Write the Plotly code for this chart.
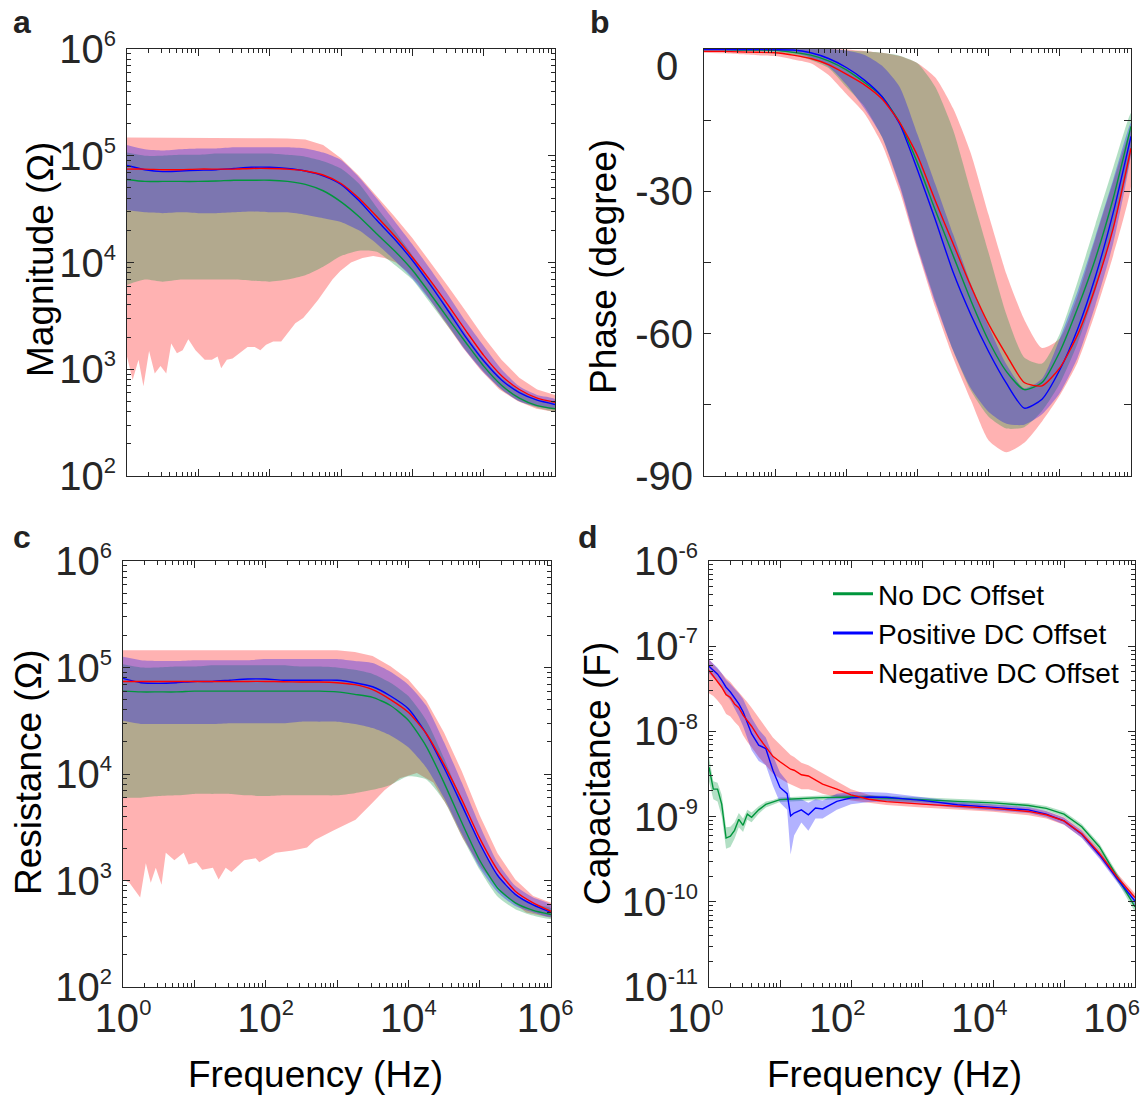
import plotly.graph_objects as go

# ---------------------------------------------------------------- data ----
SERIES = ["No DC Offset", "Positive DC Offset", "Negative DC Offset"]
LINE_COLORS = ["#00963c", "#0000ff", "#ff0000"]
FILL_COLORS = ["rgba(0,150,60,0.30)", "rgba(0,0,255,0.30)", "rgba(255,0,0,0.30)"]

# common frequency grid for panels a-c (Hz)
FREQ = [1, 1.78, 3.16, 5.62, 10, 17.8, 31.6, 56.2, 100, 178, 316, 562, 1e3,
        1.78e3, 3.16e3, 5.62e3, 1e4, 1.78e4, 3.16e4, 5.62e4, 1e5, 1.78e5,
        3.16e5, 5.62e5, 1e6]

# (a) impedance magnitude, ohm
MAG_NO = [6.0e4, 5.75e4, 5.75e4, 5.75e4, 5.75e4, 5.8e4, 5.9e4, 5.9e4, 5.9e4, 5.75e4, 5.4e4, 4.7e4, 3.7e4,
          2.7e4, 1.86e4, 1.29e4, 8.5e3, 5.1e3, 3.0e3, 1.78e3, 1.07e3, 708, 537, 457, 427]
MAG_NO_LO = [6170, 6920, 6610, 6920, 6920, 6920, 6920, 6760, 6610, 6920, 7590, 9120, 1.15e4,
             1.29e4, 1.26e4, 9550, 6920, 4170, 2510, 1510, 955, 646, 501, 437, 407]
MAG_NO_HI = [1.07e5, 1.0e5, 1.0e5, 1.02e5, 1.02e5, 1.05e5, 1.05e5, 1.05e5, 1.05e5, 1.02e5, 9.8e4, 8.9e4, 7.6e4,
             5.5e4, 3.3e4, 2.0e4, 1.17e4, 6.8e3, 3.8e3, 2.14e3, 1.26e3, 832, 631, 525, 479]
MAG_POS = [8.1e4, 7.4e4, 7.1e4, 7.2e4, 7.3e4, 7.4e4, 7.6e4, 7.8e4, 7.8e4, 7.6e4, 7.2e4, 6.5e4, 5.4e4,
           3.8e4, 2.5e4, 1.66e4, 1.05e4, 6.2e3, 3.55e3, 2.0e3, 1.2e3, 794, 603, 513, 468]
MAG_POS_LO = [3.1e4, 2.95e4, 2.9e4, 2.95e4, 2.9e4, 2.9e4, 2.95e4, 3.0e4, 2.95e4, 2.95e4, 2.8e4, 2.6e4, 2.4e4,
              2.0e4, 1.5e4, 1.05e4, 7.1e3, 4.4e3, 2.6e3, 1.48e3, 933, 646, 501, 447, 427]
MAG_POS_HI = [1.26e5, 1.15e5, 1.12e5, 1.15e5, 1.17e5, 1.17e5, 1.2e5, 1.2e5, 1.2e5, 1.2e5, 1.17e5, 1.07e5, 9.1e4,
              6.3e4, 4.0e4, 2.45e4, 1.48e4, 8.7e3, 5.0e3, 2.8e3, 1.66e3, 1000, 692, 575, 525]
MAG_NEG = [7.5e4, 7.5e4, 7.4e4, 7.4e4, 7.5e4, 7.5e4, 7.5e4, 7.6e4, 7.6e4, 7.5e4, 7.2e4, 6.6e4, 5.5e4,
           4.0e4, 2.7e4, 1.78e4, 1.12e4, 6.8e3, 4.0e3, 2.3e3, 1.35e3, 871, 646, 537, 490]
MAG_NEG_HI = [1.48e5, 1.48e5, 1.47e5, 1.47e5, 1.46e5, 1.47e5, 1.47e5, 1.46e5, 1.46e5, 1.45e5, 1.42e5, 1.26e5, 9.5e4,
              6.5e4, 4.2e4, 2.7e4, 1.7e4, 1.02e4, 6.0e3, 3.5e3, 2.0e3, 1.23e3, 832, 646, 575]
FREQ_MAG_NEG_LO = [1, 1.20, 1.45, 1.70, 2.04, 2.45, 2.95, 3.55, 4.17, 5.01, 6.03, 7.24, 9.12, 12.3, 15.5,
                   18.6, 20.9, 25.1, 30.2, 38.0, 49.0, 61.7, 74.1, 89.1, 112, 145, 182, 229, 295, 372, 479,
                   603, 759, 977, 1380, 2000, 2820, 4070, 5890, 8320, 1.2e4, 1.7e4, 2.75e4, 5.01e4, 9.12e4,
                   1.66e5, 3.02e5, 5.5e5, 1e6]
MAG_NEG_LO = [1320, 794, 1230, 692, 1480, 912, 1070, 912, 1740, 1410, 1510, 1910, 1510, 1230, 1230,
              1320, 1020, 1230, 1260, 1410, 1620, 1620, 1510, 1700, 1820, 1820, 2190, 2690, 3020, 3630, 4470,
              5500, 6920, 8320, 1.0e4, 1.1e4, 1.15e4, 1.1e4, 1.0e4, 8320, 6460, 4680, 2880, 1620, 977,
              646, 501, 427, 398]

# (b) phase, degree
PH_NO = [-0.1, -0.1, -0.2, -0.2, -0.3, -0.7, -1.3, -2.5, -4.4, -7.0, -10.0, -15.5, -24.0,
         -34.0, -43.5, -53.0, -61.5, -68.0, -71.8, -70.3, -63.8, -54.6, -44.2, -31.5, -16.3]
PH_NO_HI = [0, 0, 0, 0, 0, 0, 0, 0, -0.3, -0.5, -0.8, -1.4, -3.0,
            -8.0, -17.0, -30.0, -43.0, -56.0, -65.0, -66.3, -60, -49, -37, -25, -13.5]
PH_NO_LO = [-0.3, -0.3, -0.4, -0.5, -0.7, -1.2, -2.3, -4.0, -8.0, -12.0, -18.5, -28.5, -41.5,
            -53.0, -63.5, -72.0, -77.5, -80.0, -79.7, -76.3, -70.5, -62, -51, -38, -22]
PH_POS = [-0.1, -0.1, -0.1, -0.1, -0.15, -0.2, -0.8, -2.0, -3.9, -6.5, -10.0, -15.8, -25.5,
          -36.0, -47.0, -56.0, -63.8, -70.5, -75.7, -73.8, -67.6, -59, -48, -34.5, -18.4]
PH_POS_HI = [0, 0, 0, 0, 0, 0, 0, 0, -0.3, -1.2, -3.5, -8.0, -18.0,
             -28.5, -39.0, -49.5, -58.5, -66.5, -71.5, -69.5, -61, -51, -39.5, -27.5, -15.5]
PH_POS_LO = [-0.3, -0.3, -0.3, -0.3, -0.3, -0.8, -1.8, -3.7, -7.5, -12.5, -18.5, -29.0, -42.0,
             -53.5, -63.5, -71.5, -76.5, -79.0, -79.2, -77, -72.5, -65, -54, -41, -22]
PH_NEG = [-0.5, -0.5, -0.6, -0.7, -0.8, -1.3, -2.0, -3.3, -5.3, -7.5, -10.5, -15.5, -22.5,
          -32.0, -41.0, -50.0, -58.0, -64.5, -70.3, -71.0, -67.2, -60.2, -50.2, -37.8, -20.9]
PH_NEG_HI = [0, 0, 0, 0, 0, 0, 0, 0, -0.1, -0.4, -0.8, -1.5, -3.0,
             -6.0, -12.5, -22.0, -35.0, -47.5, -57.0, -63, -61, -52, -40, -28, -17]
PH_NEG_LO = [-0.8, -0.9, -1.1, -1.3, -1.5, -2.2, -3.0, -5.5, -9.5, -13.5, -20.0, -30.0, -42.5,
             -54.5, -65.0, -74.0, -82.5, -85.0, -83.0, -78.5, -73.0, -66.0, -55.5, -43.5, -29.0]

# (c) resistance, ohm
RES_NO = [6.0e4, 5.9e4, 5.9e4, 5.9e4, 6.0e4, 6.0e4, 6.0e4, 6.0e4, 6.0e4, 6.0e4, 6.0e4, 6.0e4, 5.9e4,
          5.6e4, 5.25e4, 4.4e4, 3.2e4, 1.82e4, 8.3e3, 3.5e3, 1.55e3, 851, 617, 525, 479]
RES_NO_LO = [6.0e3, 6.0e3, 6.2e3, 6.3e3, 6.5e3, 6.5e3, 6.5e3, 6.3e3, 6.2e3, 6.3e3, 6.3e3, 6.3e3, 6.3e3,
             6.6e3, 7.1e3, 7.9e3, 9.5e3, 8.9e3, 5.6e3, 2.6e3, 1.26e3, 708, 537, 468, 437]
RES_NO_HI = [1.07e5, 1.0e5, 1.0e5, 1.02e5, 1.02e5, 1.05e5, 1.05e5, 1.05e5, 1.05e5, 1.05e5, 1.02e5, 1.02e5, 1.0e5,
             9.5e4, 8.7e4, 7.2e4, 5.4e4, 3.2e4, 1.41e4, 5.6e3, 2.24e3, 1.12e3, 741, 603, 550]
RES_POS = [7.9e4, 7.2e4, 7.1e4, 7.2e4, 7.4e4, 7.4e4, 7.6e4, 7.8e4, 7.8e4, 7.6e4, 7.6e4, 7.6e4, 7.6e4,
           7.2e4, 6.6e4, 5.4e4, 4.1e4, 2.4e4, 1.15e4, 5.1e3, 2.24e3, 1.12e3, 741, 589, 501]
RES_POS_LO = [3.16e4, 2.95e4, 2.95e4, 2.95e4, 2.95e4, 2.95e4, 3.0e4, 3.0e4, 3.0e4, 3.0e4, 3.1e4, 3.1e4, 3.1e4,
              2.95e4, 2.7e4, 2.3e4, 1.78e4, 1.15e4, 6.0e3, 2.75e3, 1.32e3, 776, 575, 501, 457]
RES_POS_HI = [1.26e5, 1.17e5, 1.15e5, 1.15e5, 1.17e5, 1.17e5, 1.17e5, 1.17e5, 1.2e5, 1.2e5, 1.2e5, 1.2e5, 1.2e5,
              1.15e5, 1.1e5, 9.1e4, 6.9e4, 4.4e4, 2.0e4, 8.3e3, 3.3e3, 1.48e3, 891, 692, 589]
RES_NEG = [7.4e4, 7.4e4, 7.4e4, 7.4e4, 7.4e4, 7.4e4, 7.4e4, 7.4e4, 7.4e4, 7.35e4, 7.3e4, 7.3e4, 7.2e4,
           6.9e4, 6.2e4, 5.0e4, 3.8e4, 2.4e4, 1.23e4, 5.75e3, 2.5e3, 1.26e3, 794, 617, 513]
RES_NEG_HI = [1.45e5, 1.45e5, 1.45e5, 1.45e5, 1.45e5, 1.45e5, 1.45e5, 1.45e5, 1.45e5, 1.45e5, 1.45e5, 1.45e5, 1.45e5,
              1.4e5, 1.28e5, 1.03e5, 7.7e4, 4.9e4, 2.45e4, 1.06e4, 4.1e3, 1.8e3, 1020, 715, 617]
FREQ_RES_NEG_LO = [1, 1.23, 1.74, 2.09, 2.45, 2.88, 3.47, 3.98, 5.25, 7.08, 8.32, 10.7, 12.9, 18.2,
                   21.9, 27.5, 33.1, 50.1, 72.4, 81.3, 110, 138, 240, 380, 490, 891, 1820, 2950, 4680,
                   7590, 1.32e4, 2.24e4, 3.63e4, 5.75e4, 1.05e5, 2.45e5, 4.47e5, 1e6]
RES_NEG_LO = [1020, 955, 692, 1450, 955, 1320, 912, 1820, 1550, 1820, 1410, 1480, 1260, 1320,
              1020, 1320, 1200, 1550, 1620, 1480, 1660, 1820, 1910, 2040, 2400, 2950, 3720, 5130, 7080,
              9120, 1.02e4, 8320, 4790, 2510, 1320, 692, 501, 447]

# (d) capacitance, farad
FREQ_D = [1, 1.15, 1.32, 1.51, 1.74, 2.0, 2.29, 2.63, 3.02, 3.47, 3.98, 5.01, 6.31, 7.94, 10,
          12.6, 14.1, 15.8, 20, 25.1, 31.6, 39.8, 63.1, 100, 178, 316, 1e3, 3.16e3, 1e4, 3.16e4,
          5.62e4, 1e5, 1.78e5, 3.16e5, 5.62e5, 1e6]
CAP_NO = [3.8e-9, 2.1e-9, 2.1e-9, 1.4e-9, 5.6e-10, 5.9e-10, 6.9e-10, 9.3e-10, 7.9e-10, 1.07e-9,
          9.8e-10, 1.2e-9, 1.39e-9, 1.47e-9, 1.58e-9, 1.6e-9, 1.61e-9, 1.62e-9, 1.64e-9, 1.66e-9,
          1.66e-9, 1.67e-9, 1.7e-9, 1.7e-9, 1.69e-9, 1.66e-9, 1.58e-9, 1.51e-9, 1.45e-9, 1.35e-9,
          1.25e-9, 1.07e-9, 7.6e-10, 4.4e-10, 1.95e-10, 8.7e-11]
CAP_NO_HI = [5.0e-9, 2.6e-9, 2.5e-9, 1.8e-9, 7.5e-10, 7.6e-10, 8.6e-10, 1.1e-9, 9.5e-10, 1.2e-9,
             1.12e-9, 1.32e-9, 1.5e-9, 1.57e-9, 1.68e-9, 1.7e-9, 1.71e-9, 1.72e-9, 1.74e-9, 1.76e-9,
             1.76e-9, 1.77e-9, 1.8e-9, 1.8e-9, 1.79e-9, 1.76e-9, 1.68e-9, 1.6e-9, 1.54e-9, 1.43e-9,
             1.33e-9, 1.15e-9, 8.2e-10, 4.8e-10, 2.15e-10, 9.8e-11]
CAP_NO_LO = [2.6e-9, 1.6e-9, 1.5e-9, 1.0e-9, 4.2e-10, 4.4e-10, 5.5e-10, 7.5e-10, 6.6e-10, 9.2e-10,
             8.6e-10, 1.08e-9, 1.28e-9, 1.38e-9, 1.48e-9, 1.5e-9, 1.51e-9, 1.52e-9, 1.54e-9, 1.56e-9,
             1.56e-9, 1.57e-9, 1.6e-9, 1.6e-9, 1.59e-9, 1.56e-9, 1.48e-9, 1.42e-9, 1.36e-9, 1.27e-9,
             1.17e-9, 9.9e-10, 7.0e-10, 4.0e-10, 1.75e-10, 7.6e-11]
CAP_POS = [5.8e-8, 5.2e-8, 4.7e-8, 4.0e-8, 3.3e-8, 2.9e-8, 2.5e-8, 2.1e-8, 1.7e-8, 1.28e-8,
           9.4e-9, 6.9e-9, 6.3e-9, 3.5e-9, 2.2e-9, 1.86e-9, 1.02e-9, 1.1e-9, 1.2e-9, 1.05e-9,
           1.26e-9, 1.23e-9, 1.51e-9, 1.66e-9, 1.7e-9, 1.69e-9, 1.55e-9, 1.38e-9, 1.29e-9, 1.2e-9,
           1.07e-9, 8.9e-10, 6.2e-10, 3.55e-10, 1.86e-10, 1.02e-10]
CAP_POS_HI = [7.0e-8, 6.2e-8, 5.6e-8, 4.8e-8, 4.0e-8, 3.6e-8, 3.2e-8, 2.8e-8, 2.4e-8, 1.9e-8,
              1.45e-8, 1.05e-8, 8.5e-9, 5.2e-9, 3.3e-9, 2.6e-9, 1.6e-9, 1.6e-9, 1.6e-9, 1.45e-9,
              1.6e-9, 1.55e-9, 1.85e-9, 1.95e-9, 1.95e-9, 1.9e-9, 1.7e-9, 1.5e-9, 1.4e-9, 1.3e-9,
              1.16e-9, 9.7e-10, 6.8e-10, 3.9e-10, 2.05e-10, 1.13e-10]
CAP_POS_LO = [4.8e-8, 4.3e-8, 3.9e-8, 3.3e-8, 2.7e-8, 2.3e-8, 1.9e-8, 1.5e-8, 1.15e-8, 8.5e-9,
              6.0e-9, 4.5e-9, 4.0e-9, 2.3e-9, 1.45e-9, 1.2e-9, 3.6e-10, 6.0e-10, 8.5e-10, 6.8e-10,
              9.5e-10, 9.5e-10, 1.2e-9, 1.4e-9, 1.48e-9, 1.5e-9, 1.4e-9, 1.26e-9, 1.18e-9, 1.1e-9,
              9.8e-10, 8.1e-10, 5.6e-10, 3.2e-10, 1.68e-10, 9.2e-11]
CAP_NEG = [5.2e-8, 4.5e-8, 3.9e-8, 3.3e-8, 2.7e-8, 2.5e-8, 2.1e-8, 1.9e-8, 1.55e-8, 1.34e-8,
           1.15e-8, 8.5e-9, 6.6e-9, 5.1e-9, 4.4e-9, 3.8e-9, 3.6e-9, 3.5e-9, 3.1e-9, 3.0e-9,
           2.7e-9, 2.4e-9, 2.1e-9, 1.8e-9, 1.6e-9, 1.5e-9, 1.4e-9, 1.32e-9, 1.25e-9, 1.15e-9,
           1.05e-9, 8.9e-10, 6.3e-10, 3.7e-10, 1.95e-10, 1.12e-10]
CAP_NEG_HI = [7.0e-8, 6.2e-8, 5.5e-8, 4.8e-8, 4.2e-8, 3.8e-8, 3.3e-8, 2.9e-8, 2.5e-8, 2.2e-8,
              1.9e-8, 1.45e-8, 1.1e-8, 8.5e-9, 7.0e-9, 5.8e-9, 5.3e-9, 5.0e-9, 4.3e-9, 4.0e-9,
              3.6e-9, 3.2e-9, 2.6e-9, 2.1e-9, 1.8e-9, 1.65e-9, 1.53e-9, 1.45e-9, 1.37e-9, 1.27e-9,
              1.16e-9, 9.8e-10, 7.0e-10, 4.1e-10, 2.15e-10, 1.25e-10]
CAP_NEG_LO = [2.8e-8, 2.6e-8, 2.3e-8, 2.0e-8, 1.6e-8, 1.5e-8, 1.3e-8, 1.15e-8, 9.0e-9, 7.5e-9,
              6.5e-9, 5.0e-9, 4.0e-9, 3.2e-9, 2.8e-9, 2.5e-9, 2.4e-9, 2.3e-9, 2.1e-9, 2.1e-9,
              2.0e-9, 1.85e-9, 1.7e-9, 1.55e-9, 1.45e-9, 1.37e-9, 1.28e-9, 1.2e-9, 1.14e-9, 1.04e-9,
              9.5e-10, 8.0e-10, 5.7e-10, 3.3e-10, 1.75e-10, 1.0e-10]

# tick labels
SUP = "10<sup><span style='font-size:22px'>%s</span></sup>"
PAD = "<span style='font-size:%dpx'>\u00a0\u00a0\u00a0</span>"
FREQ_TICKS = [1, 10, 1e2, 1e3, 1e4, 1e5, 1e6]
FREQ_TICKTEXT_C = [SUP % "0", "", SUP % "2", "", SUP % "4", "", SUP % "6" + PAD % 14]
FREQ_TICKTEXT_D = [SUP % "0" + PAD % 33, "", SUP % "2" + PAD % 33, "", SUP % "4" + PAD % 33, "",
                   SUP % "6" + PAD % 56]
OHM_TICKS = [1e2, 1e3, 1e4, 1e5, 1e6]
OHM_TICKTEXT = [SUP % "2", SUP % "3", SUP % "4", SUP % "5", SUP % "6"]
PHASE_TICKS = [-90, -75, -60, -45, -30, -15, 0]
PHASE_TICKTEXT = ["-90", "", "-60", "", "-30", "", ""]
PHASE_TOP_LABEL = "0"
CAP_TICKS = [1e-11, 1e-10, 1e-9, 1e-8, 1e-7, 1e-6]
CAP_TICKTEXT = [SUP % "-11", SUP % "-10", SUP % "-9", SUP % "-8", SUP % "-7", SUP % "-6"]

# ---------------------------------------------------------------- figure --
W, H = 1144, 1095
FONT = "Liberation Sans, Arial, sans-serif"
INK = "#262626"


def hx(p):
    return p / W


def vy(p):
    return 1 - p / H


def minor_log(lo_exp, hi_exp):
    return [m * 10.0 ** k for k in range(lo_exp, hi_exp) for m in range(2, 10)]


fig = go.Figure()


def band(xa, ya, f_hi, hi, f_lo, lo, color, shape):
    fig.add_trace(go.Scatter(
        x=list(f_hi) + list(f_lo)[::-1], y=list(hi) + list(lo)[::-1],
        mode="lines", fill="toself", fillcolor=color,
        line=dict(width=0, shape=shape, smoothing=0.6),
        hoverinfo="skip", showlegend=False, xaxis=xa, yaxis=ya))


def curve(xa, ya, f, v, k, shape):
    fig.add_trace(go.Scatter(
        x=f, y=v, mode="lines", name=SERIES[k], legendgroup=SERIES[k],
        line=dict(color=LINE_COLORS[k], width=1.4, shape=shape, smoothing=0.6),
        showlegend=False, xaxis=xa, yaxis=ya))


# panel a
band("x", "y", FREQ, MAG_NEG_HI, FREQ_MAG_NEG_LO, MAG_NEG_LO, FILL_COLORS[2], "linear")
band("x", "y", FREQ, MAG_NO_HI, FREQ, MAG_NO_LO, FILL_COLORS[0], "spline")
band("x", "y", FREQ, MAG_POS_HI, FREQ, MAG_POS_LO, FILL_COLORS[1], "spline")
curve("x", "y", FREQ, MAG_NO, 0, "spline")
curve("x", "y", FREQ, MAG_POS, 1, "spline")
curve("x", "y", FREQ, MAG_NEG, 2, "spline")

# panel b
band("x2", "y2", FREQ, PH_NEG_HI, FREQ, PH_NEG_LO, FILL_COLORS[2], "spline")
band("x2", "y2", FREQ, PH_NO_HI, FREQ, PH_NO_LO, FILL_COLORS[0], "spline")
band("x2", "y2", FREQ, PH_POS_HI, FREQ, PH_POS_LO, FILL_COLORS[1], "spline")
curve("x2", "y2", FREQ, PH_NO, 0, "spline")
curve("x2", "y2", FREQ, PH_POS, 1, "spline")
curve("x2", "y2", FREQ, PH_NEG, 2, "spline")

# panel c
band("x3", "y3", FREQ, RES_NEG_HI, FREQ_RES_NEG_LO, RES_NEG_LO, FILL_COLORS[2], "linear")
band("x3", "y3", FREQ, RES_NO_HI, FREQ, RES_NO_LO, FILL_COLORS[0], "spline")
band("x3", "y3", FREQ, RES_POS_HI, FREQ, RES_POS_LO, FILL_COLORS[1], "spline")
curve("x3", "y3", FREQ, RES_NO, 0, "spline")
curve("x3", "y3", FREQ, RES_POS, 1, "spline")
curve("x3", "y3", FREQ, RES_NEG, 2, "spline")

# panel d
band("x4", "y4", FREQ_D, CAP_NEG_HI, FREQ_D, CAP_NEG_LO, FILL_COLORS[2], "linear")
band("x4", "y4", FREQ_D, CAP_NO_HI, FREQ_D, CAP_NO_LO, FILL_COLORS[0], "linear")
band("x4", "y4", FREQ_D, CAP_POS_HI, FREQ_D, CAP_POS_LO, FILL_COLORS[1], "linear")
curve("x4", "y4", FREQ_D, CAP_NO, 0, "linear")
curve("x4", "y4", FREQ_D, CAP_POS, 1, "linear")
curve("x4", "y4", FREQ_D, CAP_NEG, 2, "linear")

# legend entries (thicker key lines)
for k in range(3):
    fig.add_trace(go.Scatter(
        x=[None], y=[None], mode="lines", name=SERIES[k], legendgroup=SERIES[k],
        line=dict(color=LINE_COLORS[k], width=3), showlegend=True, xaxis="x4", yaxis="y4"))

axis_style = dict(
    showline=True, linecolor=INK, linewidth=1, mirror="allticks",
    ticks="inside", ticklen=7, tickwidth=1, tickcolor=INK,
    showgrid=False, zeroline=False, automargin=False,
    tickfont=dict(family=FONT, size=40, color=INK),
)
minor_style = dict(ticks="inside", ticklen=4, tickwidth=1, tickcolor=INK, showgrid=False)


def freq_axis(domain, anchor, text):
    return dict(axis_style, type="log", range=[0, 6], domain=domain, anchor=anchor,
                tickmode="array", tickvals=FREQ_TICKS, ticktext=text,
                ticklabelstandoff=-4, ticklabeloverflow="allow",
                minor=dict(minor_style, tickvals=minor_log(0, 6)))


def log_value_axis(domain, anchor, lo, hi, ticks, text):
    return dict(axis_style, type="log", range=[lo, hi], domain=domain, anchor=anchor,
                tickmode="array", tickvals=ticks, ticktext=text, ticklabelstandoff=2,
                minor=dict(minor_style, tickvals=minor_log(lo, hi)))


DOM_A_X = [hx(127), hx(555)]
DOM_B_X = [hx(704), hx(1131)]
DOM_C_X = [hx(123), hx(551)]
DOM_D_X = [hx(709), hx(1135)]
DOM_TOP_Y = [vy(476), vy(49)]
DOM_BOT_Y = [vy(987), vy(561)]
NO_TEXT = [""] * len(FREQ_TICKS)

fig.update_layout(
    width=W, height=H, margin=dict(l=0, r=0, t=0, b=0, autoexpand=False),
    paper_bgcolor="white", plot_bgcolor="white",
    font=dict(family=FONT, color=INK),
    xaxis=freq_axis(DOM_A_X, "y", NO_TEXT),
    yaxis=log_value_axis(DOM_TOP_Y, "x", 2, 6, OHM_TICKS, OHM_TICKTEXT),
    xaxis2=freq_axis(DOM_B_X, "y2", NO_TEXT),
    yaxis2=dict(axis_style, range=[-90, 0], domain=DOM_TOP_Y, anchor="x2", ticklabelstandoff=2,
                tickmode="array", tickvals=PHASE_TICKS, ticktext=PHASE_TICKTEXT),
    xaxis3=freq_axis(DOM_C_X, "y3", FREQ_TICKTEXT_C),
    yaxis3=log_value_axis(DOM_BOT_Y, "x3", 2, 6, OHM_TICKS, OHM_TICKTEXT),
    xaxis4=freq_axis(DOM_D_X, "y4", FREQ_TICKTEXT_D),
    yaxis4=log_value_axis(DOM_BOT_Y, "x4", -11, -6, CAP_TICKS, CAP_TICKTEXT),
    legend=dict(x=hx(828), y=vy(569), xanchor="left", yanchor="top",
                bgcolor="rgba(0,0,0,0)", font=dict(family=FONT, size=28, color="black"),
                tracegroupgap=0, itemwidth=40),
    showlegend=True,
)

ANNOT = [
    ("a", 22, 22, 32, True, 0), ("b", 600, 22, 32, True, 0),
    ("c", 22, 537, 32, True, 0), ("d", 588, 537, 32, True, 0),
    ("Magnitude (Ω)", 40, 260, 37, False, -90),
    ("Phase (degree)", 603, 267, 37, False, -90),
    ("Resistance (Ω)", 28, 772, 37, False, -90),
    ("Capacitance (F)", 597, 774, 37, False, -90),
    ("Frequency (Hz)", 316, 1074, 37, False, 0),
    ("Frequency (Hz)", 895, 1074, 37, False, 0),
]
for text, x, y, size, bold, angle in ANNOT:
    fig.add_annotation(
        text="<b>%s</b>" % text if bold else text, x=hx(x), y=vy(y),
        xref="paper", yref="paper", xanchor="center", yanchor="middle",
        showarrow=False, textangle=angle,
        font=dict(family=FONT, size=size, color="black" if not bold else "#222222"))

# top phase label sits a little below its tick
fig.add_annotation(text=PHASE_TOP_LABEL, x=hx(680), y=vy(66), xref="paper", yref="paper",
                   xanchor="right", yanchor="middle", showarrow=False,
                   font=dict(family=FONT, size=40, color=INK))

fig.write_html("out.html")
